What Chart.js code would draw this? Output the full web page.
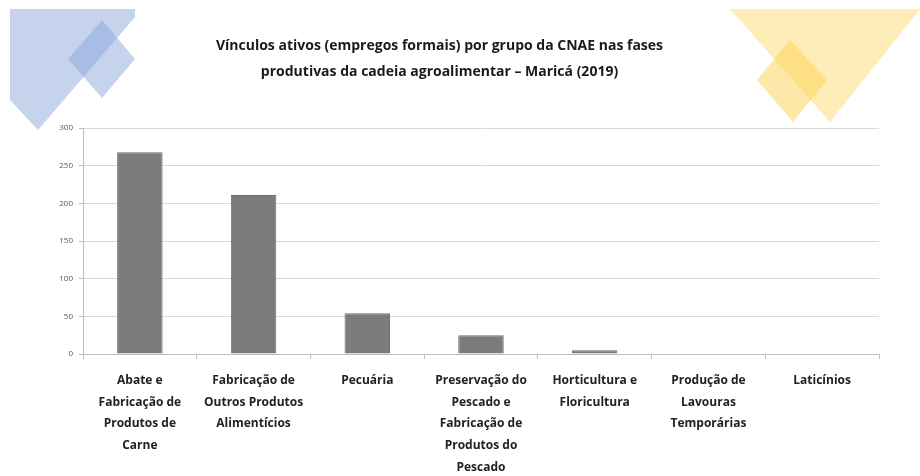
<!DOCTYPE html>
<html>
<head>
<meta charset="utf-8">
<script src="https://cdn.jsdelivr.net/npm/chart.js@4"></script>
<style>
    html, body { margin: 0; padding: 0; background: #fff; }
    #wrap { position: relative; width: 920px; height: 476px; }
    #deco { position: absolute; left: 0; top: 0; }
    #chart { position: absolute; left: 0; top: 0; }
</style>
</head>
<body>
<div id="wrap">
    <svg id="deco" width="920" height="476">
        <polygon points="10,9 135,9 135,17 38,130 10,100" fill="rgba(140,168,220,0.5)"/>
        <polygon points="102,20 135,59 102,98 68,59" fill="rgba(140,168,220,0.5)"/>
        <polygon points="730,9 920,9 830,122" fill="rgba(253,220,110,0.5)"/>
        <polygon points="790,40 827,80 793,122 757,80" fill="rgba(253,210,80,0.5)"/>
    </svg>
    <canvas id="chart" width="920" height="476"></canvas>
</div>
<script>
const titleLines = [
    'Vínculos ativos (empregos formais) por grupo da CNAE nas fases',
    'produtivas da cadeia agroalimentar – Maricá (2019)'
];

const categories = [
    ['Abate e', 'Fabricação de', 'Produtos de', 'Carne'],
    ['Fabricação de', 'Outros Produtos', 'Alimentícios'],
    ['Pecuária'],
    ['Preservação do', 'Pescado e', 'Fabricação de', 'Produtos do', 'Pescado'],
    ['Horticultura e', 'Floricultura'],
    ['Produção de', 'Lavouras', 'Temporárias'],
    ['Laticínios']
];

const vinculos = [268, 211, 54, 25, 5, 0, 0];

const yTicks = [0, 50, 100, 150, 200, 250, 300];

const ctx = document.getElementById('chart').getContext('2d');
const chart = new Chart(ctx, {
    type: 'bar',
    data: {
        labels: categories,
        datasets: [
            {
                label: 'Vínculos ativos',
                data: vinculos,
                backgroundColor: '#7b7b7b',
                borderColor: '#6e6e6e',
                borderWidth: 1,
                categoryPercentage: 1,
                barPercentage: 0.4
            }
        ]
    },
    options: {
        responsive: false,
        animation: false,
        layout: {
            padding: { left: 0, right: 41, top: 0, bottom: 0 }
        },
        scales: {
            y: {
                min: 0,
                max: 300,
                afterFit: function(scale) { scale.width = 83; },
                afterBuildTicks: function(scale) {
                    scale.ticks = yTicks.map(v => ({ value: v }));
                },
                border: { color: '#bdbdbd', width: 1 },
                grid: {
                    color: '#d9d9d9',
                    tickLength: 4,
                    tickColor: '#bdbdbd'
                },
                ticks: {
                    padding: 6,
                    color: '#555',
                    font: { family: 'Open Sans', size: 8 }
                }
            },
            x: {
                afterFit: function(scale) { scale.height = 122; },
                border: { color: '#bdbdbd', width: 1 },
                grid: {
                    offset: true,
                    drawOnChartArea: false,
                    tickLength: 5,
                    tickColor: '#bdbdbd'
                },
                ticks: {
                    padding: 11,
                    maxRotation: 0,
                    minRotation: 0,
                    autoSkip: false,
                    color: '#222',
                    font: { family: 'Open Sans', size: 12, weight: 'bold', lineHeight: 1.8 }
                }
            }
        },
        plugins: {
            legend: { display: false },
            tooltip: { enabled: false },
            title: {
                display: true,
                text: titleLines,
                color: '#1a1a1a',
                padding: { top: 33, bottom: 43 },
                font: { family: 'Open Sans', size: 14, weight: 'bold', lineHeight: 1.86 }
            }
        }
    }
});
</script>
</body>
</html>
